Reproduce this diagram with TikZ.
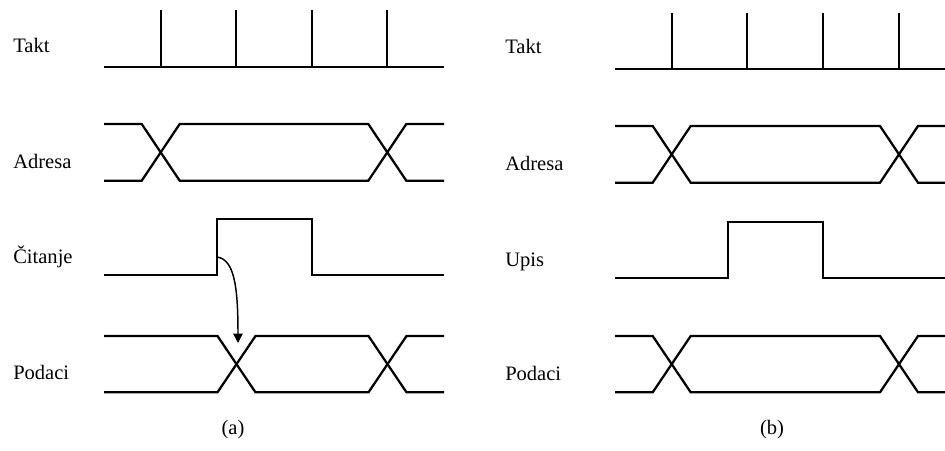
\documentclass[tikz,border=0pt]{standalone}
\usepackage{fontspec}
\setmainfont{Liberation Serif}
\usetikzlibrary{arrows.meta}
\newcommand\buswave[6]{%
  \draw[wave] (#1,#5) -- ({#2-19},#5) -- ({#2+19},#6) -- ({#3-19},#6) -- ({#3+19},#5) -- (#4,#5);
  \draw[wave] (#1,#6) -- ({#2-19},#6) -- ({#2+19},#5) -- ({#3-19},#5) -- ({#3+19},#6) -- (#4,#6);}
\begin{document}
\begin{tikzpicture}[x=0.75pt,y=-0.75pt,
  wave/.style={line width=1.7pt,line join=miter},
  lbl/.style={anchor=base west,inner sep=0pt,font=\fontsize{15.4}{18}\selectfont},
  subcap/.style={anchor=center,inner sep=0pt,font=\fontsize{15.4}{18}\selectfont}]
\useasboundingbox (0,0) rectangle (945,450);
\clip (0,0) rectangle (945,450);
% ---------- panel (a) ----------
\node[lbl] (ta) at (13,52) {Takt};
\node[lbl] (aa) at (13,168) {Adresa};
\node[lbl] (ca) at (13,263) {Čitanje};
\node[lbl] (pa) at (13,379) {Podaci};
\node[subcap] (la) at (233,430) {(a)};
\draw[wave] (104,67) -- (444,67);
\foreach \x in {160.7,236,311.7,387.3} \draw[wave] (\x,67) -- (\x,10);
\buswave{104}{160.7}{387.3}{444}{124}{180.7}
\draw[wave] (104,275) -- (217.3,275) -- (217.3,219) -- (312.3,219) -- (312.3,275) -- (444,275);
\buswave{104}{236.5}{387.5}{444}{336}{392.3}
\coordinate (rs) at (217.3,257);
\coordinate (pc) at (238,343);
\draw[line width=1.1pt,-{Triangle[length=7pt,width=7pt]}] (rs) .. controls (234,260) and (238,285) .. (pc);
% ---------- panel (b) ----------
\node[lbl] (tb) at (505,53) {Takt};
\node[lbl] (ab) at (505,170) {Adresa};
\node[lbl] (ub) at (505,266) {Upis};
\node[lbl] (pb) at (505,380.5) {Podaci};
\node[subcap] (lb) at (772,430) {(b)};
\draw[wave] (615,69.3) -- (955,69.3);
\foreach \x in {671.7,747.3,823.3,899} \draw[wave] (\x,69.3) -- (\x,13);
\buswave{615}{671.7}{899}{955}{126}{182.7}
\draw[wave] (615,277.7) -- (728.3,277.7) -- (728.3,221.7) -- (823.3,221.7) -- (823.3,277.7) -- (955,277.7);
\buswave{615}{671.7}{899}{955}{336}{392.3}
\end{tikzpicture}
\end{document}
